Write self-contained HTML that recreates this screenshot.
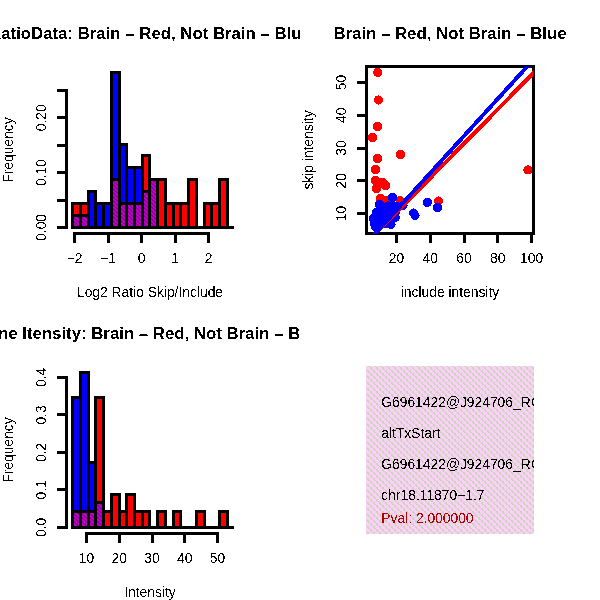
<!DOCTYPE html><html><head><meta charset="utf-8"><style>html,body{margin:0;padding:0;background:#fff;width:600px;height:600px;overflow:hidden}svg{display:block}</style></head><body><svg width="600" height="600" viewBox="0 0 600 600" shape-rendering="crispEdges" font-family='"Liberation Sans", Arial, Helvetica, sans-serif'>
<defs>
<pattern id="purp" patternUnits="userSpaceOnUse" width="4" height="4">
<rect width="4" height="4" fill="#c400ce"/>
<path d="M0 0h1v1h-1zM1 1h1v1h-1zM2 2h1v1h-1zM3 3h1v1h-1zM1 0h1v1h-1zM2 1h1v1h-1zM3 2h1v1h-1zM0 3h1v1h-1z" fill="#8e0096"/>
</pattern>
<pattern id="pink" patternUnits="userSpaceOnUse" x="366" y="366" width="6" height="6">
<rect width="6" height="6" fill="#fcd0fc"/>
<path d="M2 0h2v1h-2zM4 1h2v2h-2zM5 3h1v1h-1zM1 4h2v2h-2zM0 3h1v1h-1z" fill="#ced4b6"/>
</pattern>
<filter id="bin" x="0" y="0" width="600" height="600" filterUnits="userSpaceOnUse"><feComponentTransfer><feFuncA type="discrete" tableValues="0 1"/></feComponentTransfer></filter>
<clipPath id="c1"><rect x="0" y="0" width="300" height="300"/></clipPath>
<clipPath id="c3"><rect x="0" y="300" width="300" height="300"/></clipPath>
<clipPath id="c2"><rect x="366.4" y="66.4" width="167.2" height="167.2"/></clipPath>
<clipPath id="c4"><rect x="366" y="366" width="168" height="168"/></clipPath>
</defs>
<rect width="600" height="600" fill="#fff"/>
<line x1="72.5" y1="227.5" x2="232.5" y2="227.5" stroke="#000" stroke-width="3" stroke-linecap="square" />
<rect x="72.5" y="203.5" width="8.0" height="24.0" fill="#ff0000" stroke="#000" stroke-width="3" stroke-linejoin="miter"/>
<rect x="72.5" y="215.5" width="8.0" height="12.0" fill="url(#purp)" stroke="#000" stroke-width="3" stroke-linejoin="miter"/>
<rect x="80.5" y="203.5" width="8.0" height="24.0" fill="#ff0000" stroke="#000" stroke-width="3" stroke-linejoin="miter"/>
<rect x="80.5" y="215.5" width="8.0" height="12.0" fill="url(#purp)" stroke="#000" stroke-width="3" stroke-linejoin="miter"/>
<rect x="88.5" y="191.5" width="7.0" height="36.0" fill="#0000ff" stroke="#000" stroke-width="3" stroke-linejoin="miter"/>
<rect x="95.5" y="203.5" width="8.0" height="24.0" fill="#0000ff" stroke="#000" stroke-width="3" stroke-linejoin="miter"/>
<rect x="103.5" y="203.5" width="8.0" height="24.0" fill="#0000ff" stroke="#000" stroke-width="3" stroke-linejoin="miter"/>
<rect x="111.5" y="72.5" width="8.0" height="155.0" fill="#0000ff" stroke="#000" stroke-width="3" stroke-linejoin="miter"/>
<rect x="111.5" y="179.5" width="8.0" height="48.0" fill="url(#purp)" stroke="#000" stroke-width="3" stroke-linejoin="miter"/>
<rect x="119.5" y="144.5" width="7.0" height="83.0" fill="#0000ff" stroke="#000" stroke-width="3" stroke-linejoin="miter"/>
<rect x="119.5" y="203.5" width="7.0" height="24.0" fill="url(#purp)" stroke="#000" stroke-width="3" stroke-linejoin="miter"/>
<rect x="126.5" y="167.5" width="8.0" height="60.0" fill="#0000ff" stroke="#000" stroke-width="3" stroke-linejoin="miter"/>
<rect x="126.5" y="203.5" width="8.0" height="24.0" fill="url(#purp)" stroke="#000" stroke-width="3" stroke-linejoin="miter"/>
<rect x="134.5" y="167.5" width="8.0" height="60.0" fill="#0000ff" stroke="#000" stroke-width="3" stroke-linejoin="miter"/>
<rect x="134.5" y="203.5" width="8.0" height="24.0" fill="url(#purp)" stroke="#000" stroke-width="3" stroke-linejoin="miter"/>
<rect x="142.5" y="155.5" width="7.0" height="72.0" fill="#ff0000" stroke="#000" stroke-width="3" stroke-linejoin="miter"/>
<rect x="142.5" y="191.5" width="7.0" height="36.0" fill="url(#purp)" stroke="#000" stroke-width="3" stroke-linejoin="miter"/>
<rect x="149.5" y="179.5" width="8.0" height="48.0" fill="url(#purp)" stroke="#000" stroke-width="3" stroke-linejoin="miter"/>
<rect x="157.5" y="179.5" width="8.0" height="48.0" fill="#ff0000" stroke="#000" stroke-width="3" stroke-linejoin="miter"/>
<rect x="165.5" y="203.5" width="8.0" height="24.0" fill="#ff0000" stroke="#000" stroke-width="3" stroke-linejoin="miter"/>
<rect x="173.5" y="203.5" width="7.0" height="24.0" fill="#ff0000" stroke="#000" stroke-width="3" stroke-linejoin="miter"/>
<rect x="180.5" y="203.5" width="8.0" height="24.0" fill="#ff0000" stroke="#000" stroke-width="3" stroke-linejoin="miter"/>
<rect x="188.5" y="179.5" width="8.0" height="48.0" fill="#ff0000" stroke="#000" stroke-width="3" stroke-linejoin="miter"/>
<rect x="204.5" y="203.5" width="7.0" height="24.0" fill="#ff0000" stroke="#000" stroke-width="3" stroke-linejoin="miter"/>
<rect x="211.5" y="203.5" width="8.0" height="24.0" fill="#ff0000" stroke="#000" stroke-width="3" stroke-linejoin="miter"/>
<rect x="219.5" y="179.5" width="8.0" height="48.0" fill="#ff0000" stroke="#000" stroke-width="3" stroke-linejoin="miter"/>
<line x1="66.5" y1="90.5" x2="66.5" y2="227.5" stroke="#000" stroke-width="3" stroke-linecap="square" />
<line x1="66.5" y1="227.5" x2="58.5" y2="227.5" stroke="#000" stroke-width="3" stroke-linecap="square" />
<line x1="66.5" y1="200.5" x2="58.5" y2="200.5" stroke="#000" stroke-width="3" stroke-linecap="square" />
<line x1="66.5" y1="172.5" x2="58.5" y2="172.5" stroke="#000" stroke-width="3" stroke-linecap="square" />
<line x1="66.5" y1="145.5" x2="58.5" y2="145.5" stroke="#000" stroke-width="3" stroke-linecap="square" />
<line x1="66.5" y1="117.5" x2="58.5" y2="117.5" stroke="#000" stroke-width="3" stroke-linecap="square" />
<line x1="66.5" y1="90.5" x2="58.5" y2="90.5" stroke="#000" stroke-width="3" stroke-linecap="square" />
<g filter="url(#bin)"><text x="46.3" y="227.41" font-size="13.83" fill="#000" text-anchor="middle" transform="rotate(-90 46.3 227.41)">0.00</text></g>
<g filter="url(#bin)"><text x="46.3" y="172.63" font-size="13.83" fill="#000" text-anchor="middle" transform="rotate(-90 46.3 172.63)">0.10</text></g>
<g filter="url(#bin)"><text x="46.3" y="117.85" font-size="13.83" fill="#000" text-anchor="middle" transform="rotate(-90 46.3 117.85)">0.20</text></g>
<line x1="74.5" y1="233.5" x2="208.5" y2="233.5" stroke="#000" stroke-width="3" stroke-linecap="square" />
<line x1="74.5" y1="233.5" x2="74.5" y2="241.5" stroke="#000" stroke-width="3" stroke-linecap="square" />
<line x1="108.5" y1="233.5" x2="108.5" y2="241.5" stroke="#000" stroke-width="3" stroke-linecap="square" />
<line x1="141.5" y1="233.5" x2="141.5" y2="241.5" stroke="#000" stroke-width="3" stroke-linecap="square" />
<line x1="175.5" y1="233.5" x2="175.5" y2="241.5" stroke="#000" stroke-width="3" stroke-linecap="square" />
<line x1="208.5" y1="233.5" x2="208.5" y2="241.5" stroke="#000" stroke-width="3" stroke-linecap="square" />
<g filter="url(#bin)"><text x="74.6" y="262.7" font-size="13.83" fill="#000" text-anchor="middle">−2</text></g>
<g filter="url(#bin)"><text x="108.1" y="262.7" font-size="13.83" fill="#000" text-anchor="middle">−1</text></g>
<g filter="url(#bin)"><text x="141.6" y="262.7" font-size="13.83" fill="#000" text-anchor="middle">0</text></g>
<g filter="url(#bin)"><text x="175.1" y="262.7" font-size="13.83" fill="#000" text-anchor="middle">1</text></g>
<g filter="url(#bin)"><text x="208.6" y="262.7" font-size="13.83" fill="#000" text-anchor="middle">2</text></g>
<g filter="url(#bin)"><text x="150" y="296.7" font-size="13.83" fill="#000" text-anchor="middle">Log2 Ratio Skip/Include</text></g>
<g filter="url(#bin)"><text x="13.3" y="150" font-size="13.83" fill="#000" text-anchor="middle" transform="rotate(-90 13.3 150)">Frequency</text></g>
<g filter="url(#bin)"><text x="150" y="38.9" font-size="16.8" font-weight="bold" fill="#000" text-anchor="middle" clip-path="url(#c1)">RatioData: Brain <tspan dy="1">–</tspan><tspan dy="-1"> </tspan> Red, Not Brain <tspan dy="1">–</tspan><tspan dy="-1"> </tspan> Blue</text></g>
<line x1="72.5" y1="527.5" x2="232.5" y2="527.5" stroke="#000" stroke-width="3" stroke-linecap="square" />
<rect x="72.5" y="397.5" width="8.0" height="130.0" fill="#0000ff" stroke="#000" stroke-width="3" stroke-linejoin="miter"/>
<rect x="72.5" y="511.5" width="8.0" height="16.0" fill="url(#purp)" stroke="#000" stroke-width="3" stroke-linejoin="miter"/>
<rect x="80.5" y="372.5" width="8.0" height="155.0" fill="#0000ff" stroke="#000" stroke-width="3" stroke-linejoin="miter"/>
<rect x="80.5" y="511.5" width="8.0" height="16.0" fill="url(#purp)" stroke="#000" stroke-width="3" stroke-linejoin="miter"/>
<rect x="88.5" y="462.5" width="7.0" height="65.0" fill="#0000ff" stroke="#000" stroke-width="3" stroke-linejoin="miter"/>
<rect x="88.5" y="511.5" width="7.0" height="16.0" fill="url(#purp)" stroke="#000" stroke-width="3" stroke-linejoin="miter"/>
<rect x="95.5" y="397.5" width="8.0" height="130.0" fill="#ff0000" stroke="#000" stroke-width="3" stroke-linejoin="miter"/>
<rect x="95.5" y="502.5" width="8.0" height="25.0" fill="url(#purp)" stroke="#000" stroke-width="3" stroke-linejoin="miter"/>
<rect x="103.5" y="511.5" width="8.0" height="16.0" fill="#ff0000" stroke="#000" stroke-width="3" stroke-linejoin="miter"/>
<rect x="111.5" y="494.5" width="8.0" height="33.0" fill="#ff0000" stroke="#000" stroke-width="3" stroke-linejoin="miter"/>
<rect x="119.5" y="511.5" width="7.0" height="16.0" fill="#ff0000" stroke="#000" stroke-width="3" stroke-linejoin="miter"/>
<rect x="126.5" y="494.5" width="8.0" height="33.0" fill="#ff0000" stroke="#000" stroke-width="3" stroke-linejoin="miter"/>
<rect x="134.5" y="511.5" width="8.0" height="16.0" fill="#ff0000" stroke="#000" stroke-width="3" stroke-linejoin="miter"/>
<rect x="142.5" y="511.5" width="7.0" height="16.0" fill="#ff0000" stroke="#000" stroke-width="3" stroke-linejoin="miter"/>
<rect x="157.5" y="511.5" width="8.0" height="16.0" fill="#ff0000" stroke="#000" stroke-width="3" stroke-linejoin="miter"/>
<rect x="173.5" y="511.5" width="7.0" height="16.0" fill="#ff0000" stroke="#000" stroke-width="3" stroke-linejoin="miter"/>
<rect x="196.5" y="511.5" width="8.0" height="16.0" fill="#ff0000" stroke="#000" stroke-width="3" stroke-linejoin="miter"/>
<rect x="219.5" y="511.5" width="8.0" height="16.0" fill="#ff0000" stroke="#000" stroke-width="3" stroke-linejoin="miter"/>
<line x1="66.5" y1="377.5" x2="66.5" y2="527.5" stroke="#000" stroke-width="3" stroke-linecap="square" />
<line x1="66.5" y1="527.5" x2="58.5" y2="527.5" stroke="#000" stroke-width="3" stroke-linecap="square" />
<line x1="66.5" y1="489.5" x2="58.5" y2="489.5" stroke="#000" stroke-width="3" stroke-linecap="square" />
<line x1="66.5" y1="452.5" x2="58.5" y2="452.5" stroke="#000" stroke-width="3" stroke-linecap="square" />
<line x1="66.5" y1="414.5" x2="58.5" y2="414.5" stroke="#000" stroke-width="3" stroke-linecap="square" />
<line x1="66.5" y1="377.5" x2="58.5" y2="377.5" stroke="#000" stroke-width="3" stroke-linecap="square" />
<g filter="url(#bin)"><text x="46.3" y="527.41" font-size="13.83" fill="#000" text-anchor="middle" transform="rotate(-90 46.3 527.41)">0.0</text></g>
<g filter="url(#bin)"><text x="46.3" y="489.93" font-size="13.83" fill="#000" text-anchor="middle" transform="rotate(-90 46.3 489.93)">0.1</text></g>
<g filter="url(#bin)"><text x="46.3" y="452.45" font-size="13.83" fill="#000" text-anchor="middle" transform="rotate(-90 46.3 452.45)">0.2</text></g>
<g filter="url(#bin)"><text x="46.3" y="414.97" font-size="13.83" fill="#000" text-anchor="middle" transform="rotate(-90 46.3 414.97)">0.3</text></g>
<g filter="url(#bin)"><text x="46.3" y="377.49" font-size="13.83" fill="#000" text-anchor="middle" transform="rotate(-90 46.3 377.49)">0.4</text></g>
<line x1="86.5" y1="533.5" x2="217.5" y2="533.5" stroke="#000" stroke-width="3" stroke-linecap="square" />
<line x1="86.5" y1="533.5" x2="86.5" y2="541.5" stroke="#000" stroke-width="3" stroke-linecap="square" />
<line x1="119.5" y1="533.5" x2="119.5" y2="541.5" stroke="#000" stroke-width="3" stroke-linecap="square" />
<line x1="152.5" y1="533.5" x2="152.5" y2="541.5" stroke="#000" stroke-width="3" stroke-linecap="square" />
<line x1="184.5" y1="533.5" x2="184.5" y2="541.5" stroke="#000" stroke-width="3" stroke-linecap="square" />
<line x1="217.5" y1="533.5" x2="217.5" y2="541.5" stroke="#000" stroke-width="3" stroke-linecap="square" />
<g filter="url(#bin)"><text x="86.5" y="562.7" font-size="13.83" fill="#000" text-anchor="middle">10</text></g>
<g filter="url(#bin)"><text x="119.25" y="562.7" font-size="13.83" fill="#000" text-anchor="middle">20</text></g>
<g filter="url(#bin)"><text x="152.0" y="562.7" font-size="13.83" fill="#000" text-anchor="middle">30</text></g>
<g filter="url(#bin)"><text x="184.75" y="562.7" font-size="13.83" fill="#000" text-anchor="middle">40</text></g>
<g filter="url(#bin)"><text x="217.5" y="562.7" font-size="13.83" fill="#000" text-anchor="middle">50</text></g>
<g filter="url(#bin)"><text x="150" y="596.7" font-size="13.83" fill="#000" text-anchor="middle">Intensity</text></g>
<g filter="url(#bin)"><text x="13.3" y="450" font-size="13.83" fill="#000" text-anchor="middle" transform="rotate(-90 13.3 450)">Frequency</text></g>
<g filter="url(#bin)"><text x="150" y="338.9" font-size="16.8" font-weight="bold" fill="#000" text-anchor="middle" clip-path="url(#c3)">Gene Itensity: Brain <tspan dy="1">–</tspan><tspan dy="-1"> </tspan> Red, Not Brain <tspan dy="1">–</tspan><tspan dy="-1"> </tspan> Blue</text></g>
<g clip-path="url(#c2)">
<circle cx="377.7" cy="72.4" r="4.6" fill="#f00"/>
<circle cx="378.4" cy="100" r="4.6" fill="#f00"/>
<circle cx="377.5" cy="126.5" r="4.6" fill="#f00"/>
<circle cx="372.5" cy="137.5" r="4.6" fill="#f00"/>
<circle cx="400.5" cy="154.5" r="4.6" fill="#f00"/>
<circle cx="377.5" cy="158.5" r="4.6" fill="#f00"/>
<circle cx="375.5" cy="169.5" r="4.6" fill="#f00"/>
<circle cx="375.5" cy="180.5" r="4.6" fill="#f00"/>
<circle cx="382.5" cy="182.5" r="4.6" fill="#f00"/>
<circle cx="385.5" cy="185.5" r="4.6" fill="#f00"/>
<circle cx="376.5" cy="188.5" r="4.6" fill="#f00"/>
<circle cx="380.5" cy="198.5" r="4.6" fill="#f00"/>
<circle cx="386" cy="200.5" r="4.6" fill="#f00"/>
<circle cx="400" cy="200.5" r="4.6" fill="#f00"/>
<circle cx="438.5" cy="201" r="4.6" fill="#f00"/>
<circle cx="528" cy="170" r="4.6" fill="#f00"/>
<circle cx="392.5" cy="197.5" r="4.6" fill="#00f"/>
<circle cx="379.5" cy="204.6" r="4.6" fill="#00f"/>
<circle cx="376.5" cy="212.5" r="4.6" fill="#00f"/>
<circle cx="373.6" cy="218.5" r="4.6" fill="#00f"/>
<circle cx="374.5" cy="223.5" r="4.6" fill="#00f"/>
<circle cx="375.5" cy="226.5" r="4.6" fill="#00f"/>
<circle cx="427.3" cy="202.3" r="4.6" fill="#00f"/>
<circle cx="437.5" cy="207.5" r="4.6" fill="#00f"/>
<circle cx="413.5" cy="213" r="4.6" fill="#00f"/>
<circle cx="415" cy="215.5" r="4.6" fill="#00f"/>
<circle cx="384" cy="210" r="4.6" fill="#00f"/>
<circle cx="386" cy="217" r="4.6" fill="#00f"/>
<circle cx="382" cy="221" r="4.6" fill="#00f"/>
<circle cx="389.5" cy="211" r="4.6" fill="#00f"/>
<circle cx="391" cy="224.5" r="4.6" fill="#00f"/>
<circle cx="395.3" cy="217.5" r="4.6" fill="#00f"/>
<circle cx="403" cy="205.5" r="4.6" fill="#00f"/>
<circle cx="388" cy="206" r="4.6" fill="#00f"/>
<circle cx="381" cy="215" r="4.6" fill="#00f"/>
<circle cx="386" cy="224" r="4.6" fill="#00f"/>
<circle cx="392" cy="206" r="4.6" fill="#00f"/>
<circle cx="396" cy="211" r="4.6" fill="#00f"/>
<circle cx="380" cy="209" r="4.6" fill="#00f"/>
<circle cx="378" cy="222" r="4.6" fill="#00f"/>
<circle cx="397" cy="206.5" r="4.6" fill="#00f"/>
</g>
<rect x="366.5" y="66.5" width="167" height="167" fill="none" stroke="#000" stroke-width="3"/>
<line x1="396.5" y1="233.5" x2="531.5" y2="233.5" stroke="#000" stroke-width="3" stroke-linecap="square" />
<line x1="396.5" y1="233.5" x2="396.5" y2="241.5" stroke="#000" stroke-width="3" stroke-linecap="square" />
<line x1="430.5" y1="233.5" x2="430.5" y2="241.5" stroke="#000" stroke-width="3" stroke-linecap="square" />
<line x1="464.5" y1="233.5" x2="464.5" y2="241.5" stroke="#000" stroke-width="3" stroke-linecap="square" />
<line x1="497.5" y1="233.5" x2="497.5" y2="241.5" stroke="#000" stroke-width="3" stroke-linecap="square" />
<line x1="531.5" y1="233.5" x2="531.5" y2="241.5" stroke="#000" stroke-width="3" stroke-linecap="square" />
<g filter="url(#bin)"><text x="396.4" y="262.7" font-size="13.83" fill="#000" text-anchor="middle">20</text></g>
<g filter="url(#bin)"><text x="430.2" y="262.7" font-size="13.83" fill="#000" text-anchor="middle">40</text></g>
<g filter="url(#bin)"><text x="464.0" y="262.7" font-size="13.83" fill="#000" text-anchor="middle">60</text></g>
<g filter="url(#bin)"><text x="497.8" y="262.7" font-size="13.83" fill="#000" text-anchor="middle">80</text></g>
<g filter="url(#bin)"><text x="531.6" y="262.7" font-size="13.83" fill="#000" text-anchor="middle">100</text></g>
<line x1="366.5" y1="82.5" x2="366.5" y2="213.5" stroke="#000" stroke-width="3" stroke-linecap="square" />
<line x1="366.5" y1="213.5" x2="358.5" y2="213.5" stroke="#000" stroke-width="3" stroke-linecap="square" />
<line x1="366.5" y1="180.5" x2="358.5" y2="180.5" stroke="#000" stroke-width="3" stroke-linecap="square" />
<line x1="366.5" y1="148.5" x2="358.5" y2="148.5" stroke="#000" stroke-width="3" stroke-linecap="square" />
<line x1="366.5" y1="115.5" x2="358.5" y2="115.5" stroke="#000" stroke-width="3" stroke-linecap="square" />
<line x1="366.5" y1="82.5" x2="358.5" y2="82.5" stroke="#000" stroke-width="3" stroke-linecap="square" />
<g filter="url(#bin)"><text x="346.3" y="213.5" font-size="13.83" fill="#000" text-anchor="middle" transform="rotate(-90 346.3 213.5)">10</text></g>
<g filter="url(#bin)"><text x="346.3" y="180.75" font-size="13.83" fill="#000" text-anchor="middle" transform="rotate(-90 346.3 180.75)">20</text></g>
<g filter="url(#bin)"><text x="346.3" y="148.0" font-size="13.83" fill="#000" text-anchor="middle" transform="rotate(-90 346.3 148.0)">30</text></g>
<g filter="url(#bin)"><text x="346.3" y="115.25" font-size="13.83" fill="#000" text-anchor="middle" transform="rotate(-90 346.3 115.25)">40</text></g>
<g filter="url(#bin)"><text x="346.3" y="82.5" font-size="13.83" fill="#000" text-anchor="middle" transform="rotate(-90 346.3 82.5)">50</text></g>
<g filter="url(#bin)"><text x="450" y="296.7" font-size="13.83" fill="#000" text-anchor="middle">include intensity</text></g>
<g filter="url(#bin)"><text x="313.3" y="150" font-size="13.83" fill="#000" text-anchor="middle" transform="rotate(-90 313.3 150)">skip intensity</text></g>
<g filter="url(#bin)"><text x="450" y="38.9" font-size="16.8" font-weight="bold" fill="#000" text-anchor="middle">Brain <tspan dy="1">–</tspan><tspan dy="-1"> </tspan> Red, Not Brain <tspan dy="1">–</tspan><tspan dy="-1"> </tspan> Blue</text></g>
<g clip-path="url(#c2)">
<line x1="359.77" y1="249.67" x2="549.40" y2="56.79" stroke="#f00" stroke-width="4"/>
<line x1="359.88" y1="250.32" x2="542.52" y2="49.68" stroke="#00f" stroke-width="4"/>
</g>
<rect x="366" y="366" width="168" height="168" fill="url(#pink)"/>
<g clip-path="url(#c4)">
<g filter="url(#bin)"><text x="381.3" y="406.8" font-size="13.83" fill="#000" text-anchor="start">G6961422@J924706_RC</text></g>
<g filter="url(#bin)"><text x="381.3" y="437.8" font-size="13.83" fill="#000" text-anchor="start">altTxStart</text></g>
<g filter="url(#bin)"><text x="381.3" y="468.8" font-size="13.83" fill="#000" text-anchor="start">G6961422@J924706_RC</text></g>
<g filter="url(#bin)"><text x="381.3" y="499.8" font-size="13.83" fill="#000" text-anchor="start">chr18.11870−1.7</text></g>
<g filter="url(#bin)"><text x="381.3" y="522.8" font-size="13.83" fill="#b00000" text-anchor="start">Pval: 2.000000</text></g>
</g>
</svg></body></html>
